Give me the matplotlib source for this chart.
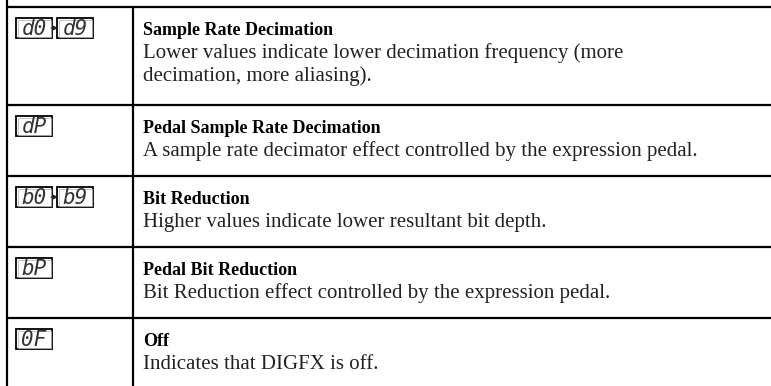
import matplotlib.pyplot as plt
from matplotlib.patches import Rectangle

# table content
codes = [["d0", "d9"], ["dP"], ["b0", "b9"], ["bP"], ["0F"]]
titles = ["Sample Rate Decimation",
          "Pedal Sample Rate Decimation",
          "Bit Reduction",
          "Pedal Bit Reduction",
          "Off"]
descriptions = [
    ["Lower values indicate lower decimation frequency (more",
     "decimation, more aliasing)."],
    ["A sample rate decimator effect controlled by the expression pedal."],
    ["Higher values indicate lower resultant bit depth."],
    ["Bit Reduction effect controlled by the expression pedal."],
    ["Indicates that DIGFX is off."],
]

# layout (pixels)
W, H = 771, 386
row_tops = [7, 105, 176, 247, 318]
left_x = 7
split_x = 133
text_x = 143
line_step = 23
lw = 1.6

fig = plt.figure(figsize=(W / 100, H / 100), dpi=100)
ax = fig.add_axes([0, 0, 1, 1])
ax.set_xlim(0, W)
ax.set_ylim(H, 0)
ax.axis('off')

# grid lines
ax.plot([left_x, left_x], [0, H], color='black', lw=lw, solid_capstyle='butt')
ax.plot([split_x, split_x], [row_tops[0], H], color='black', lw=lw, solid_capstyle='butt')
for y in row_tops:
    ax.plot([left_x, W], [y, y], color='black', lw=lw, solid_capstyle='butt')

serif = 'Liberation Serif'
for top, code, title, desc in zip(row_tops, codes, titles, descriptions):
    base = top + 28
    ax.text(text_x, base, title, fontsize=13, fontweight='bold',
            family=serif, va='baseline', ha='left')
    for k, line in enumerate(desc):
        ax.text(text_x, base + line_step * (k + 1), line, fontsize=15,
                family=serif, va='baseline', ha='left', color='#222222')

    # LCD style code boxes
    bx = 16
    for i, c in enumerate(code):
        ax.add_patch(Rectangle((bx, top + 11), 36, 20, fill=False,
                               edgecolor='black', lw=1.3))
        ax.add_patch(Rectangle((bx + 1.5, top + 12.5), 33, 17, fill=False,
                               edgecolor='#bbbbbb', lw=0.6))
        ax.text(bx + 18, top + 22, c, fontsize=15, family='DejaVu Sans Mono',
                style='oblique', color='#333333', ha='center', va='center')
        if i < len(code) - 1:
            ax.annotate('', xy=(bx + 42, top + 21), xytext=(bx + 35, top + 21),
                        arrowprops=dict(arrowstyle='-|>', lw=0.8, color='#222222',
                                        mutation_scale=7, shrinkA=0, shrinkB=0))
        bx += 41

fig.savefig('out.png', dpi=100, facecolor='white')
